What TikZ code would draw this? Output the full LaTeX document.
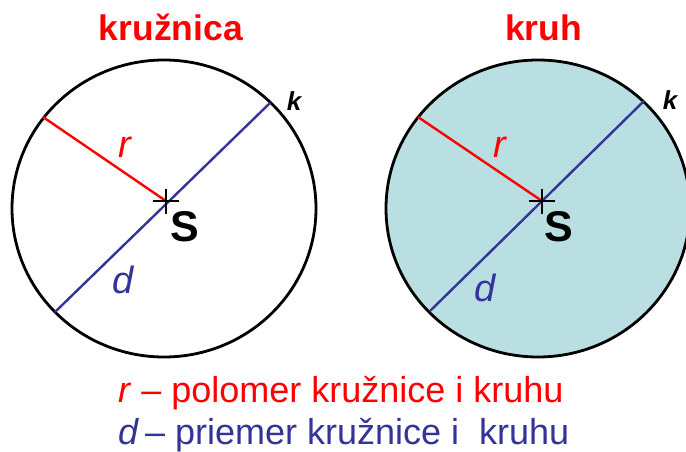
\documentclass[tikz,border=0pt]{standalone}
\usepackage{fontspec}
\setmainfont{Liberation Sans}
\usetikzlibrary{calc}
\definecolor{kred}{RGB}{255,0,0}
\definecolor{kblue}{RGB}{51,51,153}
\definecolor{kfill}{RGB}{186,223,227}
\begin{document}
\begin{tikzpicture}[x=1pt,y=-1pt,
  rim/.style={draw=black,line width=2.8pt},
  radius line/.style={draw=kred,line width=2.4pt},
  diam line/.style={draw=kblue,line width=2.4pt},
  cross/.style={draw=black,line width=1.8pt},
  title/.style={text=kred,font=\fontsize{35.5}{40}\selectfont\bfseries,anchor=base,inner sep=0pt},
  lab/.style={font=\fontsize{38}{42}\selectfont\itshape,inner sep=0pt},
  klab/.style={font=\fontsize{26}{28}\selectfont\bfseries\itshape,inner sep=0pt},
  slab/.style={font=\fontsize{43}{46}\selectfont\bfseries,inner sep=0pt},
  note/.style={font=\fontsize{36}{40}\selectfont,anchor=base west,inner sep=0pt}]
\useasboundingbox (0,0) rectangle (686,452);
% titles
\node[title] (t1) at (171,40.5) {kružnica};
\node[title] (t2) at (543.5,40.5) {kruh};
% left circle
\draw[rim] (164,208.5) ellipse [x radius=152, y radius=148.5];
\coordinate (L1) at (43,117);
\coordinate (LC) at (166,201);
\coordinate (L2) at (270,103);
\coordinate (L3) at (55,312);
\draw[radius line] (L1) -- (LC);
\draw[diam line] (L2) -- (L3);
\draw[cross] ($(LC)+(-13,0)$) -- ($(LC)+(13,0)$) ($(LC)+(0,-12.5)$) -- ($(LC)+(0,12.5)$);
% right circle
\fill[kfill] (538,208.5) ellipse [x radius=152, y radius=148.5];
\draw[rim] (538,208.5) ellipse [x radius=152, y radius=148.5];
\coordinate (R1) at (418,117);
\coordinate (RC) at (542,201);
\coordinate (R2) at (644,101);
\coordinate (R3) at (430,311);
\draw[radius line] (R1) -- (RC);
\draw[diam line] (R2) -- (R3);
\draw[cross] ($(RC)+(-13,0)$) -- ($(RC)+(13,0)$) ($(RC)+(0,-12.5)$) -- ($(RC)+(0,12.5)$);
% labels
\node[lab,text=kred] (rl) at (125,147) {r};
\node[lab,text=kred] (rr) at (500,147) {r};
\node[lab,text=kblue] (dl) at (123,280) {d};
\node[lab,text=kblue] (dr) at (485.5,287.5) {d};
\node[klab] (kl) at (294,101) {k};
\node[klab] (kr) at (670,100) {k};
\node[slab] (sl) at (185,227) {S};
\node[slab] (sr) at (559,227) {S};
% bottom notes
\node[note,text=kred] (n1) at (118,402) {\textit{r} – polomer kružnice i kruhu};
\node[note,text=kblue] (n2) at (118,444) {\textit{d}\,– priemer kružnice i\ \ kruhu};
\end{tikzpicture}
\end{document}
